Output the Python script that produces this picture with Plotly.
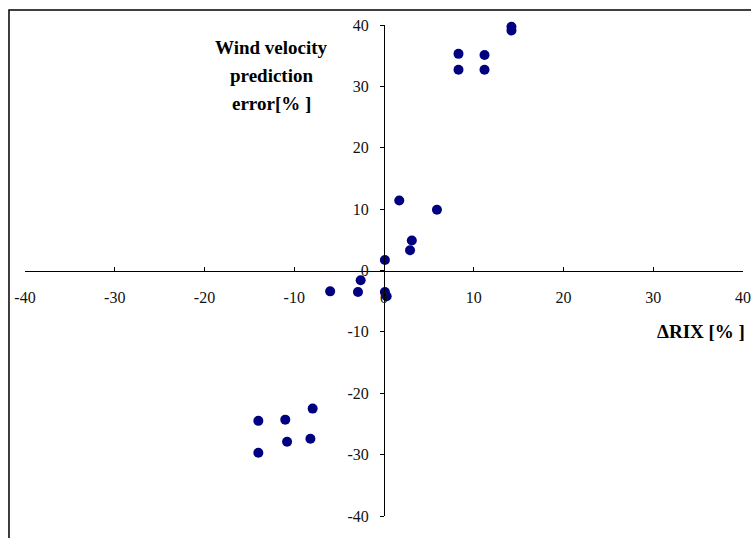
import plotly.graph_objects as go

delta_rix = [14.2, 14.2, 8.3, 11.2, 8.3, 11.2, 1.7, 5.9, 3.1, 2.9, 0.1, -2.6, -6.0, -2.9, 0.1, 0.3,
             -14.0, -11.0, -7.95, -14.0, -10.8, -8.2]
wind_err = [39.7, 39.1, 35.3, 35.1, 32.7, 32.7, 11.4, 9.9, 4.9, 3.3, 1.7, -1.6, -3.4, -3.5, -3.5, -4.2,
            -24.5, -24.3, -22.5, -29.7, -27.9, -27.4]
tick_vals = [-40, -30, -20, -10, 0, 10, 20, 30, 40]
y_title_lines = ["Wind velocity", "prediction", "error[% ]"]
y_title_pos = [36.3, 31.8, 27.2]

fig = go.Figure()
fig.add_trace(go.Scatter(x=delta_rix, y=wind_err, mode="markers", cliponaxis=False,
                         marker=dict(color="#000080", size=10), showlegend=False))

font = dict(family="Liberation Serif, Times New Roman, serif", size=16, color="#111111")
tfont = dict(family="Liberation Serif, Times New Roman, serif", size=19, color="black")

annotations = [dict(text="<b>%s</b>" % t, xref="x", yref="y", x=-12.5, y=yy, showarrow=False,
                    font=tfont) for t, yy in zip(y_title_lines, y_title_pos)]
annotations.append(dict(text="<b>ΔRIX [% ]</b>", xref="paper", yref="y", x=1.005, y=-10,
                        xanchor="right", showarrow=False, font=tfont))

fig.update_layout(
    width=751, height=538,
    margin=dict(l=25, r=8, t=25, b=22, autoexpand=False),
    paper_bgcolor="white", plot_bgcolor="white",
    xaxis=dict(range=[-40, 40], tickvals=tick_vals, ticktext=[str(v) for v in tick_vals],
               anchor="free", position=0.5, showline=True, linecolor="black", linewidth=1,
               ticks="inside", ticklen=4, tickcolor="black", showgrid=False, zeroline=False,
               tickfont=font, ticklabelstandoff=12, automargin=False),
    yaxis=dict(range=[-40, 40], tickvals=tick_vals, ticktext=[str(v) for v in tick_vals],
               anchor="free", position=0.5, showline=True, linecolor="black", linewidth=1,
               ticks="outside", ticklen=4, tickcolor="black", showgrid=False, zeroline=False,
               tickfont=font, ticklabelstandoff=8, automargin=False),
    shapes=[dict(type="rect", xref="paper", yref="paper", x0=-0.0223, x1=1.2, y0=-0.2, y1=1.0305,
                 line=dict(color="black", width=1.5), fillcolor="rgba(0,0,0,0)", layer="below")],
    annotations=annotations,
)

fig.write_html("out.html")
